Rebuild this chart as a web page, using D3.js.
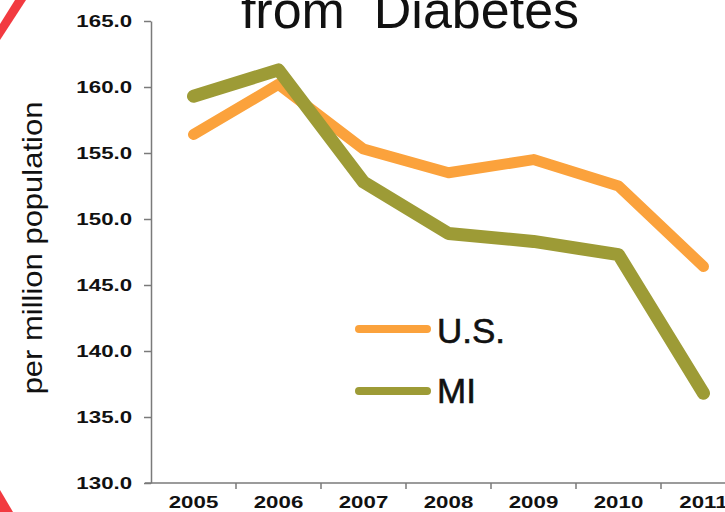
<!DOCTYPE html>
<html>
<head>
<meta charset="utf-8">
<script src="https://cdn.jsdelivr.net/npm/d3@7"></script>
<style>
  html, body { margin: 0; padding: 0; background: #fff; }
  svg { display: block; font-family: "Liberation Sans", Arial, sans-serif; }
  .axis path, .axis line { stroke: #7a7a7a; stroke-width: 1.5; }
  .axis text { font-size: 16.5px; font-weight: bold; fill: #111; }
</style>
</head>
<body>
<svg id="chart" width="725" height="512"></svg>
<script>
var YEARS = ['2005', '2006', '2007', '2008', '2009', '2010', '2011'];
var US_RATE = [156.4, 160.2, 155.3, 153.5, 154.5, 152.5, 146.4];
var MI_RATE = [159.3, 161.3, 152.8, 148.9, 148.3, 147.3, 136.8];
var Y_TICKS = [130, 135, 140, 145, 150, 155, 160, 165];
var SERIES = [
  { name: 'U.S.', values: US_RATE, color: '#fba23c', width: 11 },
  { name: 'MI', values: MI_RATE, color: '#9d9b36', width: 13 }
];

// tick numbers on the slide are set in a wide bold face
var STRETCH = 'scale(1.35,1)';

var svg = d3.select('#chart');

// red slide decoration on the left edge
svg.append('path')
    .attr('d', 'M0,24 L15,0 L26,0 L0,40 Z')
    .attr('fill', '#f23a40');
svg.append('path')
    .attr('d', 'M0,490 L13,512 L0,512 Z')
    .attr('fill', '#f23a40');

// title (cut off at the top of the photo, as in the reference)
svg.append('text')
    .attr('x', 410)
    .attr('y', 28)
    .attr('text-anchor', 'middle')
    .attr('font-size', 52)
    .attr('fill', '#111')
    .attr('xml:space', 'preserve')
    .text('from  Diabetes');

var x = d3.scaleBand().domain(YEARS).range([151, 746]);
var y = d3.scaleLinear().domain([130, 165]).range([483, 21]);

svg.append('g')
    .attr('class', 'axis')
    .attr('transform', 'translate(151,0)')
    .call(d3.axisLeft(y).tickValues(Y_TICKS).tickFormat(d3.format('.1f'))
      .tickSizeInner(7).tickSizeOuter(0).tickPadding(7))
  .selectAll('.tick text')
    .attr('transform', STRETCH);

var xAxis = svg.append('g')
    .attr('class', 'axis')
    .attr('transform', 'translate(0,483)')
    .call(d3.axisBottom(x).tickSize(0).tickPadding(13));
xAxis.select('.domain').remove();
xAxis.selectAll('.tick text').attr('transform', STRETCH);
svg.append('line')
    .attr('x1', 145).attr('x2', 725)
    .attr('y1', 483).attr('y2', 483)
    .attr('stroke', '#7a7a7a').attr('stroke-width', 1.5);
// boundary ticks between years
svg.append('g').selectAll('line')
    .data(YEARS.slice(1))
  .enter().append('line')
    .attr('x1', (d) => x(d)).attr('x2', (d) => x(d))
    .attr('y1', 483).attr('y2', 489)
    .attr('stroke', '#7a7a7a').attr('stroke-width', 1.5);

svg.append('text')
    .attr('transform', 'translate(42,248) rotate(-90) scale(1,0.92)')
    .attr('text-anchor', 'middle')
    .attr('font-size', 31)
    .attr('fill', '#111')
    .text('per million population');

var line = d3.line()
    .x((d, i) => x(YEARS[i]) + x.bandwidth() / 2)
    .y((d) => y(d));

svg.append('g').selectAll('path')
    .data(SERIES)
  .enter().append('path')
    .attr('d', (s) => line(s.values))
    .attr('fill', 'none')
    .attr('stroke', (s) => s.color)
    .attr('stroke-width', (s) => s.width)
    .attr('stroke-linecap', 'round')
    .attr('stroke-linejoin', 'round');

// legend
var LEGEND_Y = [329, 391];
var LEGEND_TEXT_DY = [14, 12];
var legend = svg.append('g').selectAll('g')
    .data(SERIES)
  .enter().append('g')
    .attr('transform', (s, i) => 'translate(359,' + LEGEND_Y[i] + ')');
legend.append('line')
    .attr('x1', 0).attr('x2', 68)
    .attr('stroke', (s) => s.color)
    .attr('stroke-width', 8)
    .attr('stroke-linecap', 'round');
legend.append('text')
    .attr('x', 78)
    .attr('y', (s, i) => LEGEND_TEXT_DY[i])
    .attr('font-size', 35)
    .attr('fill', '#111')
    .attr('stroke', '#111')
    .attr('stroke-width', 0.6)
    .text((s) => s.name);
</script>
</body>
</html>
